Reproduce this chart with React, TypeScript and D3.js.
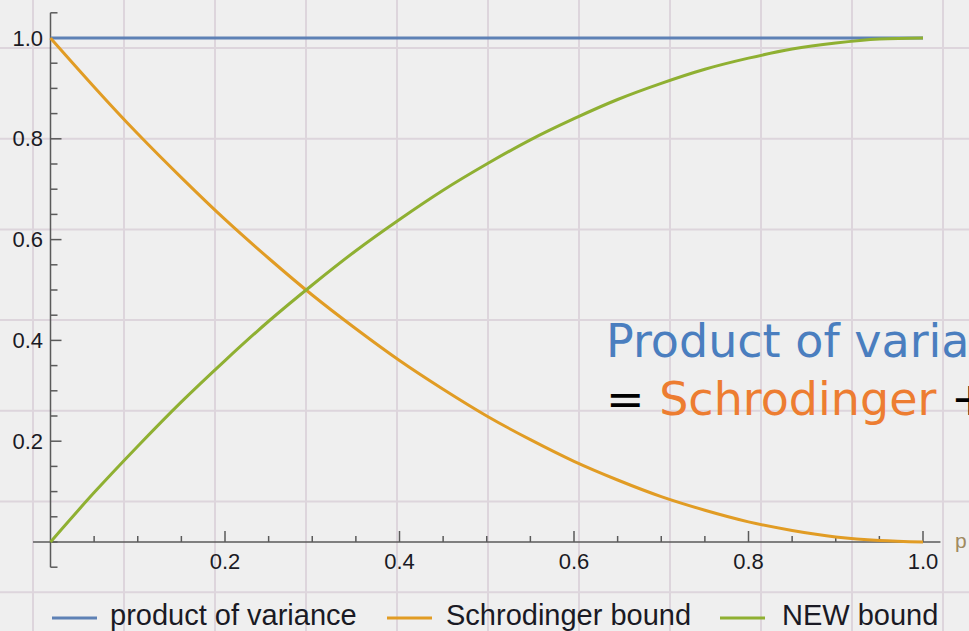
import { useEffect } from "react";
import * as d3 from "d3";

// p values sampled every 0.05
const pValues = [0, 0.05, 0.1, 0.15, 0.2, 0.25, 0.3, 0.35, 0.4, 0.45, 0.5, 0.55, 0.6, 0.65, 0.7, 0.75, 0.8, 0.85, 0.9, 0.95, 1.0];
const productOfVariance = [1, 1, 1, 1, 1, 1, 1, 1, 1, 1, 1, 1, 1, 1, 1, 1, 1, 1, 1, 1, 1];
const schrodingerBound = [1, 0.903, 0.81, 0.723, 0.64, 0.563, 0.49, 0.423, 0.36, 0.303, 0.25, 0.203, 0.16, 0.123, 0.09, 0.063, 0.04, 0.023, 0.01, 0.003, 0];
const newBound = [0, 0.098, 0.19, 0.278, 0.36, 0.438, 0.51, 0.578, 0.64, 0.698, 0.75, 0.798, 0.84, 0.878, 0.91, 0.938, 0.96, 0.978, 0.99, 0.998, 1];

const seriesNames = ["product of variance", "Schrodinger bound", "NEW bound"];
const seriesColors = ["#5e81b5", "#e19c24", "#8fb032"];
const xTickLabels = ["0.2", "0.4", "0.6", "0.8", "1.0"];
const yTickLabels = ["0.2", "0.4", "0.6", "0.8", "1.0"];

const W = 969;
const H = 631;

export default function App() {
  useEffect(() => {
    document.body.style.margin = "0";
  }, []);

  const x = d3.scaleLinear().domain([0, 1]).range([50.5, 923]);
  const y = d3.scaleLinear().domain([0, 1]).range([542, 38]);

  const line = d3
    .line<number>()
    .x((_, i) => x(pValues[i]))
    .y((d) => y(d))
    .curve(d3.curveNatural);

  const series = [productOfVariance, schrodingerBound, newBound];

  // slide background grid (decoration, pixel spacing)
  const gridX = d3.range(33, W, 91);
  const gridY = d3.range(48, H, 90.7);

  const minorX = d3.range(1, 21).map((i) => i * 0.05).filter((v) => Math.round(v * 100) % 20 !== 0);
  const minorY = d3.range(-1, 22).map((i) => i * 0.05).filter((v) => Math.round(v * 100) % 20 !== 0 || Math.abs(v) < 1e-9);

  const legendSwatch = [52, 387, 720];
  const legendText = [110, 446, 782];

  const axisColor = "#5a5a5a";
  const labelFont = "'Liberation Sans', Arial, sans-serif";

  return (
    <svg width={W} height={H} style={{ display: "block", background: "#efefef" }}>
      <g stroke="#ddd5dc" strokeWidth={2}>
        {gridX.map((gx) => (
          <line key={"gx" + gx} x1={gx} x2={gx} y1={0} y2={H} />
        ))}
        {gridY.map((gy) => (
          <line key={"gy" + gy} x1={0} x2={W} y1={gy} y2={gy} />
        ))}
      </g>

      {/* axes */}
      <g stroke={axisColor} strokeWidth={1.5}>
        <line x1={x(-0.02)} x2={x(1.02)} y1={y(0)} y2={y(0)} />
        <line x1={x(0)} x2={x(0)} y1={y(-0.05)} y2={y(1.05)} />
        {xTickLabels.map((t) => (
          <line key={"xm" + t} x1={x(+t)} x2={x(+t)} y1={y(0)} y2={y(0) - 11} />
        ))}
        {minorX.map((v) => (
          <line key={"xn" + v} x1={x(v)} x2={x(v)} y1={y(0)} y2={y(0) - 6} />
        ))}
        {yTickLabels.map((t) => (
          <line key={"ym" + t} x1={x(0)} x2={x(0) + 11} y1={y(+t)} y2={y(+t)} />
        ))}
        {minorY.map((v) => (
          <line key={"yn" + v} x1={x(0)} x2={x(0) + 7} y1={y(v)} y2={y(v)} />
        ))}
      </g>

      <g fontFamily={labelFont} fontSize={22} fill="#1a1a24">
        {xTickLabels.map((t) => (
          <text key={"xl" + t} x={x(+t)} y={y(0) + 27} textAnchor="middle">
            {t}
          </text>
        ))}
        {yTickLabels.map((t) => (
          <text key={"yl" + t} x={43} y={y(+t) + 7.5} textAnchor="end">
            {t}
          </text>
        ))}
      </g>
      <text x={955} y={548} fontFamily={labelFont} fontSize={21} fill="#a08a60">
        p
      </text>

      {/* curves */}
      {series.map((s, i) => (
        <path key={seriesNames[i]} d={line(s) || ""} fill="none" stroke={seriesColors[i]} strokeWidth={3} />
      ))}

      {/* legend */}
      <g fontFamily={labelFont} fontSize={29} fill="#1a1a24">
        {seriesNames.map((n, i) => (
          <g key={"lg" + n}>
            <line x1={legendSwatch[i]} x2={legendSwatch[i] + 45} y1={618} y2={618} stroke={seriesColors[i]} strokeWidth={3} />
            <text x={legendText[i]} y={625}>
              {n}
            </text>
          </g>
        ))}
      </g>

      {/* annotation */}
      <g fontFamily="'DejaVu Sans', Verdana, sans-serif" fontSize={46}>
        <text x={606} y={357} fill="#4a7ebf">
          Product of variance
        </text>
        <text x={606} y={415} fill="#000">
          {"= "}
          <tspan fill="#ed7d31">Schrodinger</tspan>
          {" + "}
          <tspan fill="#8fb032">NEW</tspan>
        </text>
      </g>
    </svg>
  );
}
